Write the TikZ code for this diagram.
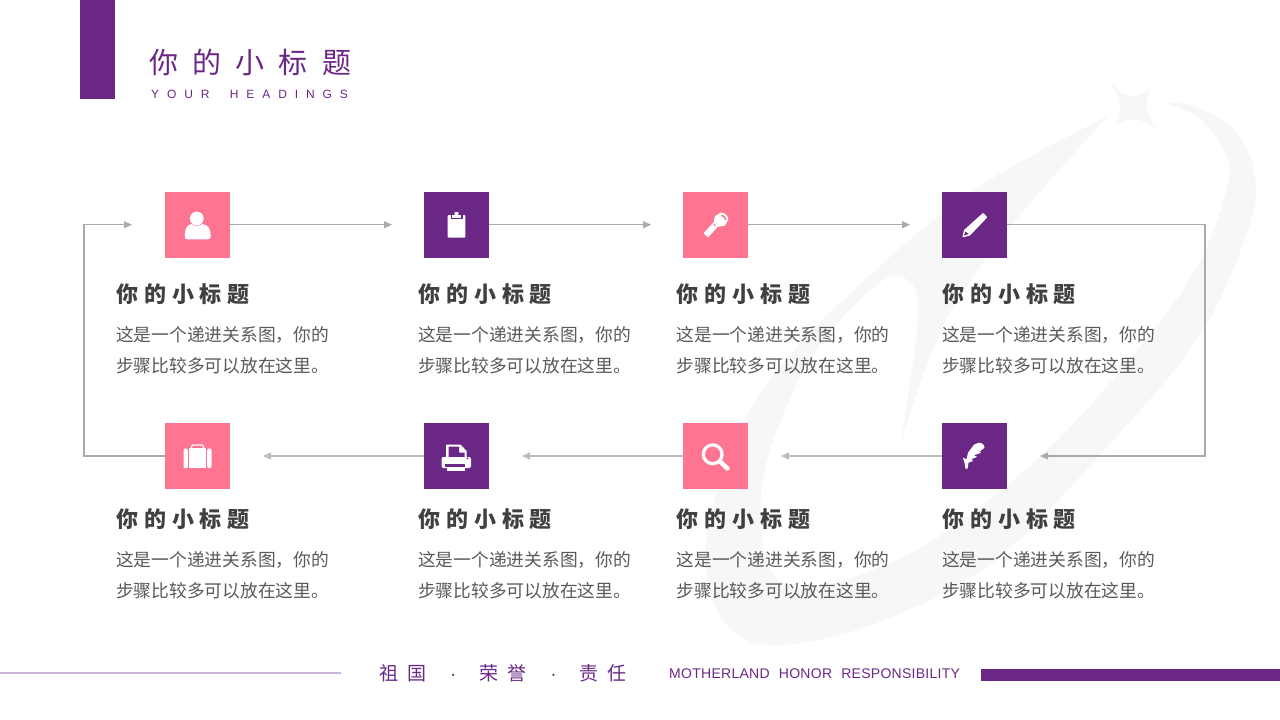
\documentclass[tikz,border=0pt]{standalone}
\usepackage{fontspec}
\setmainfont{Liberation Sans}
\newfontfamily\cjk{Noto Sans CJK SC}
\usetikzlibrary{arrows.meta,positioning}
\definecolor{hgpurple}{HTML}{6A2786}
\definecolor{hgpink}{HTML}{FF7491}
\definecolor{hgline}{HTML}{ABABAB}
\definecolor{hgmark}{HTML}{F7F7F7}
\definecolor{hgdark}{HTML}{404040}
\definecolor{hgbody}{HTML}{595959}
\definecolor{hgthin}{HTML}{CFB2DE}
\tikzset{
  iconbox/.style={minimum size=65.5pt, inner sep=0pt, outer sep=0pt},
  pinkbox/.style={iconbox, fill=hgpink},
  purplebox/.style={iconbox, fill=hgpurple},
  headtext/.style={anchor=west, inner sep=0pt, text=hgdark, font=\cjk\bfseries\fontsize{22}{26}\selectfont\addfontfeatures{LetterSpace=27}},
  bodytext/.style={anchor=north west, inner sep=0pt, text=hgbody, align=left, font=\cjk\fontsize{17.75}{31}\selectfont},
  link/.style={draw=hgline, line width=1.1pt, -{Triangle[length=8pt,width=7pt]}},
  lowlink/.style={link, draw=hgline!80, line width=1.5pt},
  icon/.style={fill=white, draw=none}
}
\newcommand{\steptext}{这是一个递进关系图，你的\\步骤比较多可以放在这里。}
\begin{document}
\begin{tikzpicture}[x=1pt, y=-1pt]
  \useasboundingbox (0,0) rectangle (1280,720);

  \fill[hgmark] plot[smooth, tension=0.6] coordinates {(1108,116) (985,183) (879,267) (766,384) (713,505) (707,580) (732,630) (781,645) (879,622) (993,562) (1106,448) (1200,335) (1248,229) (1255,176) (1235,130) (1193,106) (1163,103)}
    -- plot[smooth, tension=0.6] coordinates {(1163,103) (1200,119) (1227,157) (1225,195) (1197,267) (1144,342) (1068,429) (993,497) (917,550) (841,581) (796,588) (766,562) (762,486) (785,410) (822,342) (872,289) (896,276) (915,289) (917,327) (906,410) (900,446)}
    -- plot[smooth, tension=0.6] coordinates {(900,446) (924,373) (955,304) (1015,221) (1108,116)} -- cycle;
  \fill[hgmark] (1110,83) .. controls (1128,100) and (1135,98) .. (1150,89) .. controls (1145,105) and (1145,112) .. (1157,129) .. controls (1140,118) and (1130,116) .. (1115,126) .. controls (1122,110) and (1122,100) .. (1110,83) -- cycle;

  \fill[hgpurple] (80,0) rectangle (115,99);
  \node[anchor=west, inner sep=0pt, text=hgpurple, font=\cjk\fontsize{29}{32}\selectfont\addfontfeatures{LetterSpace=49}] (title) at (149,62) {你的小标题};
  \node[anchor=west, inner sep=0pt, text=hgpurple, font=\fontsize{12}{14}\selectfont\addfontfeatures{LetterSpace=66}] (subtitle) at (151,94) {YOUR\hspace{9pt} HEADINGS};

  \node[pinkbox] (user) at (197.5,225) {};
  \node[purplebox] (clip) at (456.5,225) {};
  \node[pinkbox] (torch) at (715.5,225) {};
  \node[purplebox] (pen) at (974.5,225) {};
  \node[purplebox] (quill) at (974.5,456) {};
  \node[pinkbox] (search) at (715.5,456) {};
  \node[purplebox] (printer) at (456.5,456) {};
  \node[pinkbox] (bag) at (197.5,456) {};

  \coordinate (userin) at (132,224.7);
  \coordinate (clipin) at (392,224.7);
  \coordinate (torchin) at (651,224.7);
  \coordinate (penin) at (910,224.7);
  \coordinate (turnr) at (1205,224.7);
  \coordinate (turnrb) at (1205,456);
  \coordinate (quillin) at (1040,456);
  \coordinate (searchin) at (781,456);
  \coordinate (printerin) at (522,456);
  \coordinate (bagin) at (263,456);
  \coordinate (turnl) at (84,456);
  \coordinate (turnlt) at (84,224.7);

  \draw[link] (user.east |- userin) -- (clipin);
  \draw[link] (clip.east |- userin) -- (torchin);
  \draw[link] (torch.east |- userin) -- (penin);
  \draw[link] (pen.east |- userin) -- (turnr) -- (turnrb) -- (quillin);
  \draw[lowlink] (quill) -- (searchin);
  \draw[lowlink] (search) -- (printerin);
  \draw[lowlink] (printer) -- (bagin);
  \draw[link] (bag) -- (turnl) -- (turnlt) -- (userin);

  \node[headtext] (heada) at (116,294) {你的小标题};
  \node[headtext] (headb) at (418,294) {你的小标题};
  \node[headtext] (headc) at (676.5,294) {你的小标题};
  \node[headtext] (headd) at (942,294) {你的小标题};
  \node[headtext] (heade) at (116,519) {你的小标题};
  \node[headtext] (headf) at (418,519) {你的小标题};
  \node[headtext] (headg) at (676.5,519) {你的小标题};
  \node[headtext] (headh) at (942,519) {你的小标题};

  \node[bodytext] (bodya) at (116,326) {\steptext};
  \node[bodytext] (bodyb) at (418,326) {\steptext};
  \node[bodytext] (bodyc) at (676.5,326) {\steptext};
  \node[bodytext] (bodyd) at (942,326) {\steptext};
  \node[bodytext] (bodye) at (116,551) {\steptext};
  \node[bodytext] (bodyf) at (418,551) {\steptext};
  \node[bodytext] (bodyg) at (676.5,551) {\steptext};
  \node[bodytext] (bodyh) at (942,551) {\steptext};

  \begin{scope}[shift={(user.center)}]
    \fill[icon] (-0.7,-6.5) circle (6.9);
    \fill[icon] (-12.5,12) .. controls (-13,4) and (-11,0) .. (-6,-1) .. controls (-3,1.5) and (2,1.5) .. (5,-1) .. controls (11,0) and (13.5,4) .. (13,12) .. controls (13,14) and (12,14.3) .. (10,14.3) -- (-10,14.3) .. controls (-12,14.3) and (-12.5,14) .. (-12.5,12) -- cycle;
  \end{scope}
  \begin{scope}[shift={(clip.center)}]
    \fill[icon, rounded corners=1pt] (-8.8,-10) rectangle (8.8,12.7);
    \fill[hgpurple] (-6,-10.5) rectangle (6,-6);
    \fill[icon] (-4.8,-10.5) rectangle (4.8,-7.2);
    \fill[icon, rounded corners=1pt] (-2.2,-13) rectangle (2.2,-10);
  \end{scope}
  \begin{scope}[shift={(torch.center)}]
    \fill[icon, rounded corners=1pt] (-12,8.3) -- (-7.5,12.6) -- (2,2) -- (-2,-2.5) -- cycle;
    \fill[icon] (-2,-2.5) -- (-0.5,-9) -- (5.5,-12.5) .. controls (9,-12.5) and (13,-9) .. (12.8,-5.5) -- (9.5,0.5) -- (2,2) -- cycle;
    \fill[hgpink] (6.3,-10.5) .. controls (8.5,-10) and (10.5,-8) .. (11,-5.5) -- (9.5,-5) .. controls (9,-7) and (7.5,-8.5) .. (5.5,-9.2) -- cycle;
    \fill[hgpink] (-0.8,0) circle (1.1);
  \end{scope}
  \begin{scope}[shift={(pen.center)}]
    \fill[icon, rounded corners=0.8pt] (8.8,-12.3) -- (12.8,-7.7) -- (-4.5,10.5) -- (-12.2,12.5) -- (-10.5,5) -- cycle;
    \fill[hgpurple] (-10.5,10.5) -- (-9,6.3) -- (-6,9.2) -- cycle;
  \end{scope}
  \begin{scope}[shift={(quill.center)}]
    \fill[icon] (-9,12.7) -- (-10,6.7) -- (-11.5,1.7) -- (-8,3.3) -- (-6.5,-3.3) -- (-3,-8) .. controls (-1,-11) and (1,-13) .. (3.5,-13) .. controls (6,-13.5) and (10,-12.5) .. (10,-8.3) -- (5,-4.3) -- (6.8,-3.3) -- (-0.8,-0.7) -- (2.5,0.7) -- (-3,3.3) -- (-1.5,5) -- (-6,6.7) -- (-7,12.7) -- cycle;
  \end{scope}
  \begin{scope}[shift={(search.center)}]
    \draw[white, line width=3.2pt] (-2.8,-1.7) circle (9.4);
    \draw[white, line width=4.5pt, line cap=round] (4.5,5.5) -- (12,12.5);
  \end{scope}
  \begin{scope}[shift={(printer.center)}]
    \fill[icon] (-10.5,-11.5) -- (4,-11.5) -- (10,-5) -- (10,2) -- (-10.5,2) -- cycle;
    \fill[hgpurple] (-8,-9.3) -- (2.5,-9.3) -- (2.5,-3.5) -- (8,-3.5) -- (8,1) -- (-8,1) -- cycle;
    \fill[icon, rounded corners=2pt] (-15,1) rectangle (14.5,12);
    \fill[hgpurple] (11,2.3) circle (1);
    \fill[hgpurple] (-11.5,8) rectangle (8.5,11.3);
    \fill[icon] (-10,11.3) rectangle (8.5,14.7);
  \end{scope}
  \begin{scope}[shift={(bag.center)}]
    \fill[icon, rounded corners=2pt] (-14,-7.6) -- (-9.7,-7.6) -- (-9.7,12.3) -- (-14,12.3) -- cycle;
    \fill[icon, rounded corners=2pt] (9.7,-7.6) -- (14,-7.6) -- (14,12.3) -- (9.7,12.3) -- cycle;
    \fill[icon] (-8.7,-7.6) rectangle (8.7,12.3);
    \draw[white, line width=1.3pt, rounded corners=1.5pt] (-6,-7.6) -- (-6,-11) -- (6,-11) -- (6,-7.6);
  \end{scope}

  \draw[hgthin, line width=1.5pt] (0,673) -- (341,673);
  \node[anchor=west, inner sep=0pt, text=hgpurple, font=\cjk\fontsize{19}{22}\selectfont\addfontfeatures{LetterSpace=47}] (motto) at (379,673) {祖国\hspace{24pt}{\rmfamily ·}\hspace{23pt}荣誉\hspace{24pt}{\rmfamily ·}\hspace{23pt}责任};
  \node[anchor=west, inner sep=0pt, text=hgpurple, font=\fontsize{14}{16}\selectfont\addfontfeatures{LetterSpace=2}] (mottoen) at (669,673.5) {MOTHERLAND\hspace{5pt} HONOR\hspace{5pt} RESPONSIBILITY};
  \fill[hgpurple] (981,669) rectangle (1280,680.5);
\end{tikzpicture}
\end{document}
